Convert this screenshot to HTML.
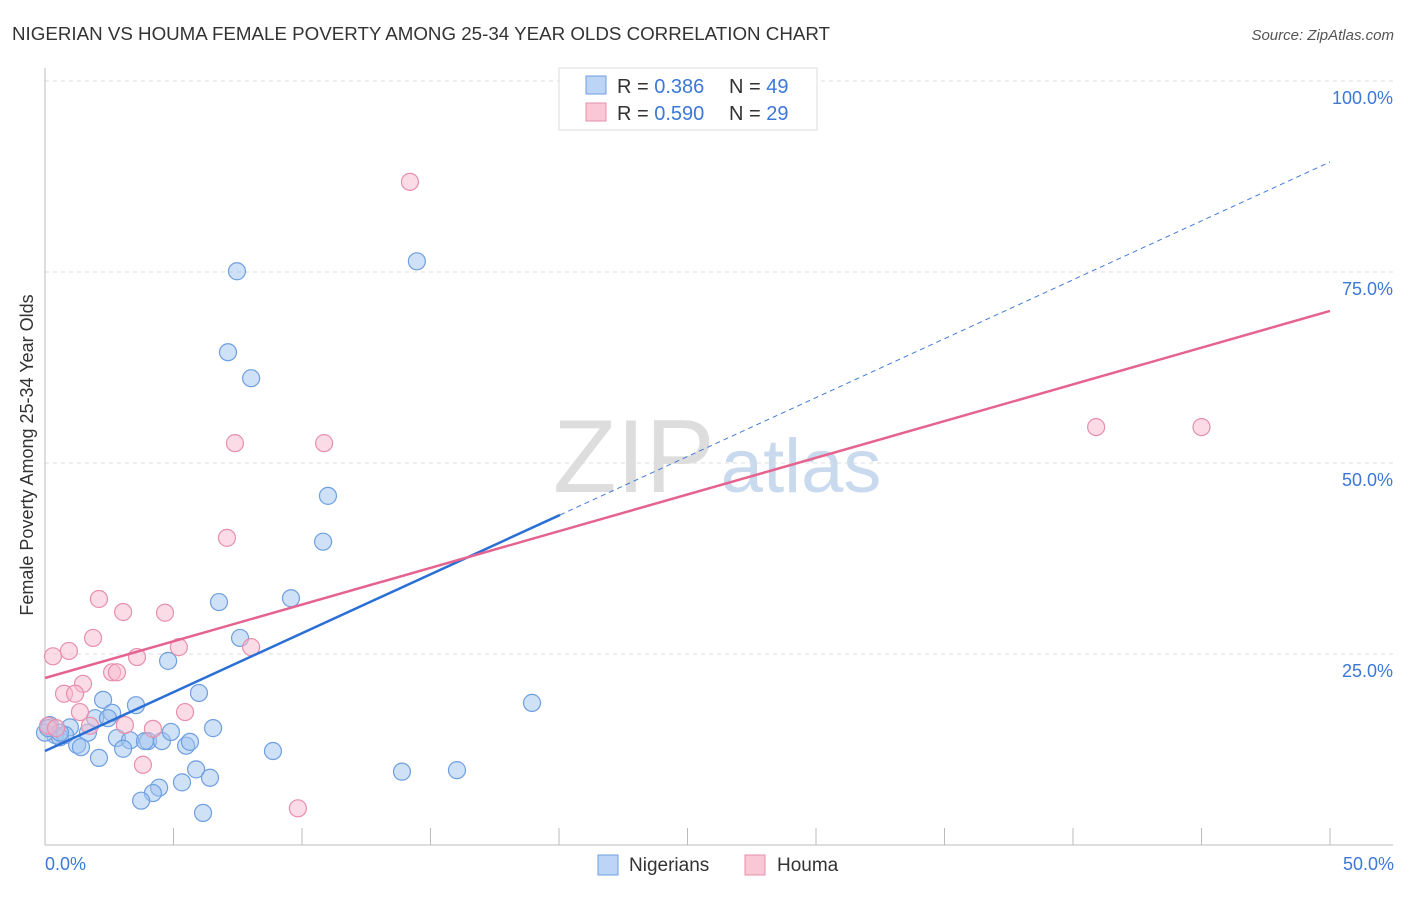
<!DOCTYPE html>
<html><head><meta charset="utf-8"><style>
body{margin:0;background:#fff;font-family:"Liberation Sans",sans-serif}
svg text{font-family:"Liberation Sans",sans-serif}
</style></head><body>
<svg width="1406" height="892" viewBox="0 0 1406 892">
<text x="12" y="40" font-size="18" fill="#333" textLength="818" lengthAdjust="spacingAndGlyphs">NIGERIAN VS HOUMA FEMALE POVERTY AMONG 25-34 YEAR OLDS CORRELATION CHART</text>
<text x="1394" y="40" font-size="15" fill="#555" text-anchor="end" font-style="italic">Source: ZipAtlas.com</text>
<text x="553" y="492" font-size="104" fill="#ddd" font-family="Liberation Serif">ZIP<tspan fill="#c9d9ee" font-family="Liberation Sans" font-size="76" dx="6">atlas</tspan></text>
<g id="grid"></g><g id="axes"></g><g id="marks"></g>
<text x="33" y="455" font-size="18" fill="#333" text-anchor="middle" transform="rotate(-90 33 455)">Female Poverty Among 25-34 Year Olds</text>
<text x="45" y="870" font-size="18" fill="#3b78d8">0.0%</text>
<text x="1394" y="870" font-size="18" fill="#3b78d8" text-anchor="end">50.0%</text>
<g>
<rect x="559" y="68" width="258" height="62" fill="#fff" stroke="#ddd"/>
<rect x="586" y="76" width="20" height="18" fill="#bcd4f5" stroke="#6e9fe0"/>
<rect x="586" y="103" width="20" height="18" fill="#f9c7d6" stroke="#e88fab"/>
<text x="617" y="93" font-size="20" fill="#333">R = <tspan fill="#3b78d8">0.386</tspan><tspan x="729">N = </tspan><tspan fill="#3b78d8">49</tspan></text>
<text x="617" y="120" font-size="20" fill="#333">R = <tspan fill="#3b78d8">0.590</tspan><tspan x="729">N = </tspan><tspan fill="#3b78d8">29</tspan></text>
</g>
<g>
<rect x="598" y="855" width="20" height="20" fill="#bcd4f5" stroke="#6e9fe0"/>
<text x="629" y="871" font-size="19" fill="#333">Nigerians</text>
<rect x="745" y="855" width="20" height="20" fill="#f9c7d6" stroke="#e88fab"/>
<text x="777" y="871" font-size="19" fill="#333">Houma</text>
</g>
</svg>
<script>
const yTicks=[25,50,75,100];
const yTickLabels=["25.0%","50.0%","75.0%","100.0%"];
const xTicks=[5,10,15,20,25,30,35,40,45,50];
const nigX=[7.47,14.47,7.12,8.02,11.01,10.82,6.77,9.57,7.59,4.79,5.99,2.26,3.54,2.61,1.95,2.45,0.19,0.97,1.67,0.39,0.58,0.78,1.25,1.40,2.80,3.31,4.01,3.89,4.55,4.90,5.49,5.64,6.54,3.04,2.10,8.87,5.88,6.42,5.33,4.44,4.20,3.74,6.15,13.89,16.03,18.95,0,0.12,0.58];
const nigY=[75.1,76.4,64.5,61.1,45.7,39.7,31.8,32.3,27.1,24.1,19.9,19.0,18.3,17.3,16.6,16.6,15.7,15.4,14.7,14.4,14.1,14.4,13.1,12.8,14.0,13.7,13.6,13.6,13.6,14.8,13.0,13.5,15.3,12.6,11.4,12.3,9.9,8.8,8.2,7.5,6.8,5.8,4.2,9.6,9.8,18.6,14.7,15.3,14.7];
const houX=[14.2,7.39,10.86,7.08,2.10,3.04,4.67,1.87,5.21,8.02,0.31,0.93,3.58,2.61,2.80,1.48,0.74,1.17,1.36,3.11,4.20,1.75,5.45,3.81,9.84,40.9,45.0,0.12,0.43];
const houY=[86.8,52.6,52.6,40.2,32.2,30.5,30.4,27.1,25.9,25.9,24.7,25.4,24.6,22.6,22.6,21.1,19.8,19.8,17.4,15.7,15.2,15.6,17.4,10.5,4.8,54.7,54.7,15.6,15.3];
const nigTrend=[12.3,89.4];
const nigSolidEnd=20.04;
const houTrend=[21.86,69.9];
const X=v=>45+v/50*1285, Y=v=>845-v/100*764;
const NS="http://www.w3.org/2000/svg";
function mk(t,a,p){const e=document.createElementNS(NS,t);for(const k in a)e.setAttribute(k,a[k]);document.getElementById(p).appendChild(e);return e;}
yTicks.forEach((t,i)=>{
 const l=mk('line',{x1:45,x2:1393,y1:Y(t),y2:Y(t),stroke:'#ddd','stroke-dasharray':'4,4'},'grid');
 
 
 const tx=mk('text',{x:1393,y:Y(t)+23,'font-size':18,fill:'#3b78d8','text-anchor':'end'},'grid');
 tx.textContent=yTickLabels[i];
 
 
});
const ax=mk('line',{x1:45,x2:45,y1:68,y2:845,stroke:'#bbb'},'axes');


const bx=mk('line',{x1:45,x2:1393,y1:845,y2:845,stroke:'#bbb'},'axes');


xTicks.forEach(t=>{
 const l=mk('line',{x1:X(t),x2:X(t),y1:828,y2:845,stroke:'#bbb'},'axes');
 
 
});
nigX.forEach((x,i)=>{
 const c=mk('circle',{cx:X(x),cy:Y(nigY[i]),r:8.5,fill:'rgba(160,195,240,0.5)',stroke:'#6e9fe0','stroke-width':1.2},'marks');
 
 
});
houX.forEach((x,i)=>{
 const c=mk('circle',{cx:X(x),cy:Y(houY[i]),r:8.5,fill:'rgba(248,185,205,0.5)',stroke:'#e88fab','stroke-width':1.2},'marks');
 
 
});
const f=(tr,x)=>tr[0]+(tr[1]-tr[0])*x/50;
const d=mk('line',{x1:X(nigSolidEnd),y1:Y(f(nigTrend,nigSolidEnd)),x2:X(50),y2:Y(nigTrend[1]),stroke:'#3b78d8','stroke-width':1,'stroke-dasharray':'5,4'},'marks');


const s=mk('line',{x1:X(0),y1:Y(nigTrend[0]),x2:X(nigSolidEnd),y2:Y(f(nigTrend,nigSolidEnd)),stroke:'#2a6fd6','stroke-width':2.5},'marks');


const h=mk('line',{x1:X(0),y1:Y(houTrend[0]),x2:X(50),y2:Y(houTrend[1]),stroke:'#e5648f','stroke-width':2.5},'marks');


</script>
</body></html>
